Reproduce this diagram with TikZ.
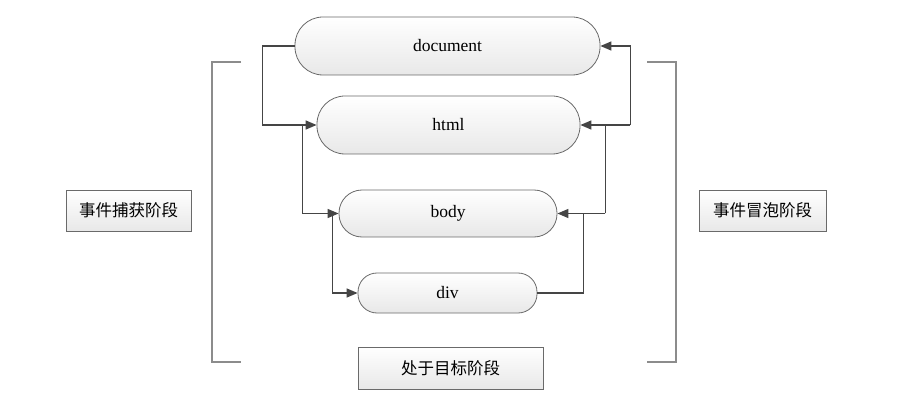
\documentclass[tikz,border=0pt]{standalone}
\usepackage{fontspec}
\setmainfont{Liberation Serif}
\newfontfamily\cjk{Noto Sans CJK SC}
\usetikzlibrary{arrows.meta}
\definecolor{conncol}{HTML}{454545}
\definecolor{edgecol}{HTML}{6A6A6A}
\definecolor{brackcol}{HTML}{8C8C8C}
\begin{document}
\begin{tikzpicture}[x=1pt,y=-1pt,
  pill/.style={draw=edgecol, line width=0.8pt, top color=white, bottom color=black!9,
    inner sep=0pt, font=\fontsize{17.5}{20}\selectfont},
  phase/.style={draw=edgecol, line width=0.9pt, top color=white, bottom color=black!9,
    inner sep=0pt, font=\cjk\fontsize{16.5}{20}\selectfont},
  conn/.style={draw=conncol, line width=1.4pt, -{Triangle[length=11pt,width=9pt]}},
  plain/.style={draw=conncol, line width=1.4pt},
  brack/.style={draw=brackcol, line width=1.1pt}]
\useasboundingbox (0,0) rectangle (897,406);

\node[pill, minimum width=305pt, minimum height=58pt, rounded corners=28pt] (doc) at (447.5,46) {document};
\node[pill, minimum width=263pt, minimum height=58pt, rounded corners=28pt] (html) at (448.5,125) {html};
\node[pill, minimum width=218pt, minimum height=47pt, rounded corners=23pt] (body) at (448,213.5) {body};
\node[pill, minimum width=179pt, minimum height=40pt, rounded corners=19pt] (div) at (447.5,293) {div};

% capture (left)
\draw[conn] (doc.west) -- ++(-32,0) |- (html.west);
\draw[conn] ([xshift=-14pt]html.west) |- (body.west);
\draw[conn] ([xshift=-6pt]body.west) |- (div.west);

% bubbling (right)
\draw[plain] (div.east) -| ([xshift=26pt]body.east);
\draw[conn] ([xshift=48pt]body.east) -- (body.east);
\draw[plain] ([xshift=48pt]body.east) -- ([xshift=25pt]html.east);
\draw[conn] ([xshift=50pt]html.east) -- (html.east);
\draw[conn] ([xshift=50pt]html.east) |- (doc.east);

% brackets
\draw[brack] (241,62) -- (212,62) -- (212,362) -- (241,362);
\draw[brack] (647,62) -- (676,62) -- (676,362) -- (647,362);

% phase labels
\node[phase, minimum width=125pt, minimum height=41pt] (cap) at (128.5,210.5) {事件捕获阶段};
\node[phase, minimum width=127pt, minimum height=41pt] (bub) at (762.5,210.5) {事件冒泡阶段};
\node[phase, minimum width=185pt, minimum height=42pt] (tgt) at (450.5,368) {处于目标阶段};
\end{tikzpicture}
\end{document}
